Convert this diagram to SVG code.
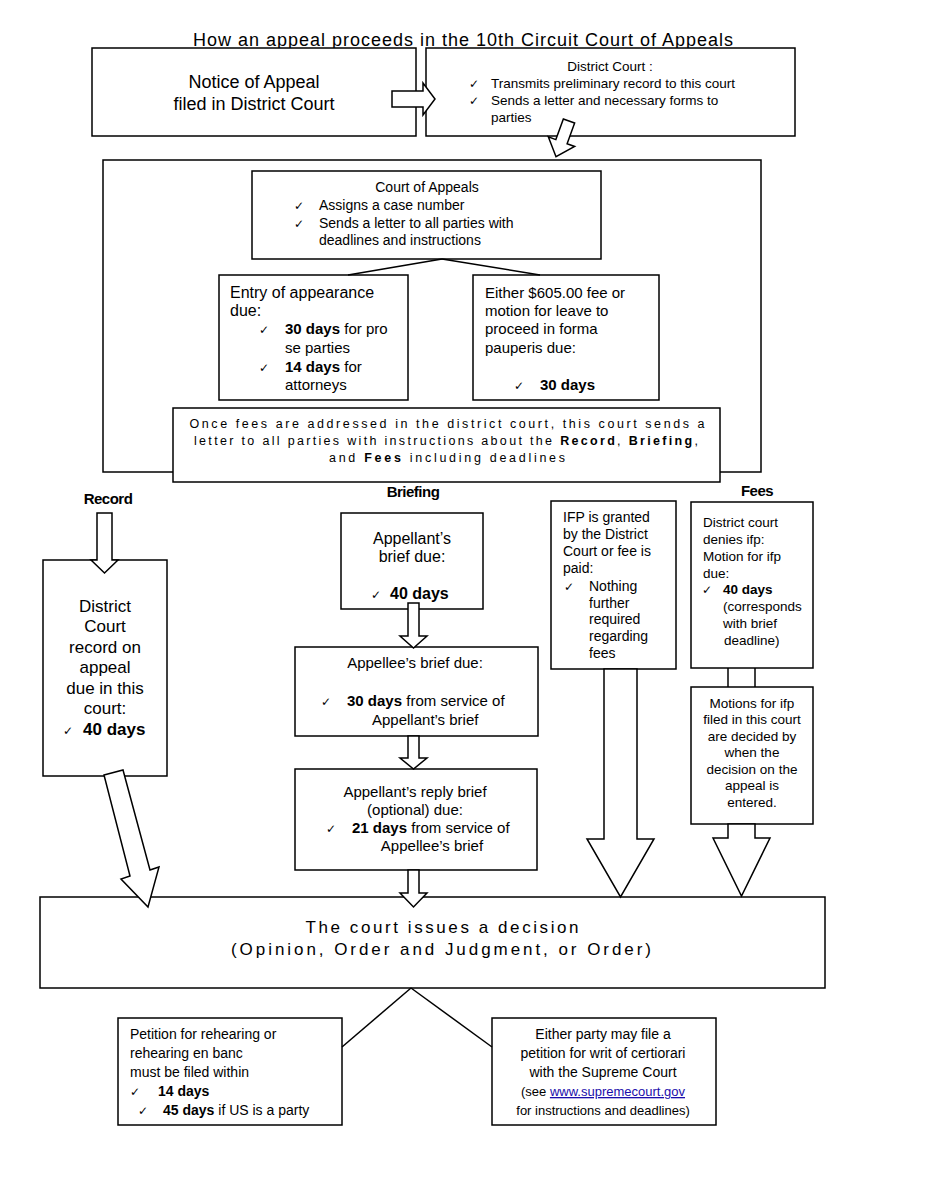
<svg xmlns="http://www.w3.org/2000/svg" width="927" height="1200" viewBox="0 0 927 1200">
<style>
  .box { fill: #fff; stroke: #000; stroke-width: 1.5; }
  .frame { fill: none; stroke: #000; stroke-width: 1.5; }
  .arrow { fill: #fff; stroke: #000; stroke-width: 1.5; stroke-linejoin: miter; }
  .line { fill: none; stroke: #000; stroke-width: 1.5; }
  text { font-family: "Liberation Sans", "DejaVu Sans", Arial, sans-serif; fill: #000; }
  .c { text-anchor: middle; }
  .b { font-weight: bold; }
  .ck { font-family: "DejaVu Sans", sans-serif; font-size: 12px; }
  .f13 { font-size: 13.5px; }
  .f14 { font-size: 14px; }
  .f15 { font-size: 15px; }
  .f16 { font-size: 16px; }
  .f17 { font-size: 17px; }
  .f18 { font-size: 18px; }
  .lbl { font-size: 15px; font-weight: bold; letter-spacing: -0.5px; }
  .link { fill: #1a0dab; text-decoration: underline; }
</style>
<rect width="927" height="1200" fill="#fff"/>

<g id="title">
  <text class="c f18" x="463" y="46" textLength="540" lengthAdjust="spacing">How an appeal proceeds in the 10th Circuit Court of Appeals</text>
</g>

<g id="container">
  <rect class="frame" x="103" y="160" width="658" height="312"/>
</g>

<g id="notice">
  <rect class="box" x="92" y="48" width="324" height="88"/>
  <text class="c f18" x="254" y="88">Notice of Appeal</text>
  <text class="c f18" x="254" y="110">filed in District Court</text>
</g>

<g id="district-court">
  <rect class="box" x="426" y="48" width="369" height="88"/>
  <text class="c f13" x="610" y="71">District Court :</text>
  <text class="ck" x="469" y="88">✓</text>
  <text class="f13" x="491" y="88">Transmits preliminary record to this court</text>
  <text class="ck" x="469" y="105">✓</text>
  <text class="f13" x="491" y="105">Sends a letter and necessary forms to</text>
  <text class="f13" x="491" y="122">parties</text>
</g>

<g id="court-of-appeals">
  <rect class="box" x="252" y="171" width="349" height="88"/>
  <text class="c f14" x="427" y="192">Court of Appeals</text>
  <text class="ck" x="294" y="210">✓</text>
  <text class="f14" x="319" y="210">Assigns a case number</text>
  <text class="ck" x="294" y="228">✓</text>
  <text class="f14" x="319" y="228">Sends a letter to all parties with</text>
  <text class="f14" x="319" y="245">deadlines and instructions</text>
</g>

<g id="entry-of-appearance">
  <rect class="box" x="219" y="275" width="189" height="125"/>
  <text class="f16" x="230" y="298">Entry of appearance</text>
  <text class="f16" x="230" y="316">due:</text>
  <text class="ck" x="259" y="334">✓</text>
  <text class="f15" x="285" y="334"><tspan class="b">30 days</tspan> for pro</text>
  <text class="f15" x="285" y="353">se parties</text>
  <text class="ck" x="259" y="372">✓</text>
  <text class="f15" x="285" y="372"><tspan class="b">14 days</tspan> for</text>
  <text class="f15" x="285" y="390">attorneys</text>
</g>

<g id="fee-or-ifp">
  <rect class="box" x="473" y="275" width="186" height="125"/>
  <text class="f15" x="485" y="298">Either $605.00 fee or</text>
  <text class="f15" x="485" y="316">motion for leave to</text>
  <text class="f15" x="485" y="334">proceed in forma</text>
  <text class="f15" x="485" y="353">pauperis due:</text>
  <text class="ck" x="514" y="390">✓</text>
  <text class="f15 b" x="540" y="390">30 days</text>
</g>

<g id="fees-addressed">
  <rect class="box" x="173" y="408" width="547" height="74"/>
  <text class="c" font-size="12.5" x="447" y="428" textLength="515" lengthAdjust="spacing">Once fees are addressed in the district court, this court sends a</text>
  <text class="c" font-size="12.5" x="446" y="445" textLength="504" lengthAdjust="spacing">letter to all parties with instructions about the <tspan class="b">Record</tspan>, <tspan class="b">Briefing</tspan>,</text>
  <text class="c" font-size="12.5" x="447" y="462" textLength="236" lengthAdjust="spacing">and <tspan class="b">Fees</tspan> including deadlines</text>
</g>

<g id="labels">
  <text class="c lbl" x="108" y="504">Record</text>
  <text class="c lbl" x="413" y="497">Briefing</text>
  <text class="c lbl" x="757" y="496">Fees</text>
</g>

<g id="record">
  <rect class="box" x="43" y="560" width="124" height="216"/>
  <text class="c f17" x="105" y="612">District</text>
  <text class="c f17" x="105" y="632">Court</text>
  <text class="c f17" x="105" y="653">record on</text>
  <text class="c f17" x="105" y="673">appeal</text>
  <text class="c f17" x="105" y="694">due in this</text>
  <text class="c f17" x="105" y="714">court:</text>
  <text class="ck" x="63" y="735">✓</text>
  <text class="f17 b" x="83" y="735">40 days</text>
</g>

<g id="appellant-brief">
  <rect class="box" x="341" y="513" width="142" height="96"/>
  <text class="c f16" x="412" y="544">Appellant’s</text>
  <text class="c f16" x="412" y="562">brief due:</text>
  <text class="ck" x="371" y="599">✓</text>
  <text class="f16 b" x="390" y="599">40 days</text>
</g>

<g id="appellee-brief">
  <rect class="box" x="295" y="647" width="243" height="89"/>
  <text class="c f15" x="415" y="668">Appellee’s brief due:</text>
  <text class="ck" x="321" y="706">✓</text>
  <text class="f15" x="347" y="706"><tspan class="b">30 days</tspan> from service of</text>
  <text class="f15" x="372" y="725">Appellant’s brief</text>
</g>

<g id="reply-brief">
  <rect class="box" x="295" y="769" width="242" height="101"/>
  <text class="c f15" x="415" y="797">Appellant’s reply brief</text>
  <text class="c f15" x="415" y="815">(optional) due:</text>
  <text class="ck" x="326" y="833">✓</text>
  <text class="f15" x="352" y="833"><tspan class="b">21 days</tspan> from service of</text>
  <text class="c f15" x="432" y="851">Appellee’s brief</text>
</g>

<g id="ifp-granted">
  <rect class="box" x="551" y="501" width="125" height="168"/>
  <text class="f14" x="563" y="522">IFP is granted</text>
  <text class="f14" x="563" y="539">by the District</text>
  <text class="f14" x="563" y="556">Court or fee is</text>
  <text class="f14" x="563" y="573">paid:</text>
  <text class="ck" x="564" y="591">✓</text>
  <text class="f14" x="589" y="591">Nothing</text>
  <text class="f14" x="589" y="608">further</text>
  <text class="f14" x="589" y="624">required</text>
  <text class="f14" x="589" y="641">regarding</text>
  <text class="f14" x="589" y="658">fees</text>
</g>

<g id="ifp-denied">
  <rect class="box" x="691" y="502" width="122" height="166"/>
  <text class="f13" x="703" y="527">District court</text>
  <text class="f13" x="703" y="544">denies ifp:</text>
  <text class="f13" x="703" y="561">Motion for ifp</text>
  <text class="f13" x="703" y="578">due:</text>
  <text class="ck" x="702" y="594">✓</text>
  <text class="f13 b" x="723" y="594">40 days</text>
  <text class="f13" x="723" y="611">(corresponds</text>
  <text class="f13" x="723" y="628">with brief</text>
  <text class="f13" x="724" y="645">deadline)</text>
</g>

<g id="motions-ifp">
  <rect class="box" x="691" y="687" width="122" height="137"/>
  <text class="c f13" x="752" y="708">Motions for ifp</text>
  <text class="c f13" x="752" y="724">filed in this court</text>
  <text class="c f13" x="752" y="741">are decided by</text>
  <text class="c f13" x="752" y="757">when the</text>
  <text class="c f13" x="752" y="774">decision on the</text>
  <text class="c f13" x="752" y="790">appeal is</text>
  <text class="c f13" x="752" y="807">entered.</text>
</g>

<g id="decision">
  <rect class="box" x="40" y="897" width="785" height="91"/>
  <text class="c f17" x="442" y="933" textLength="273" lengthAdjust="spacing">The court issues a decision</text>
  <text class="c f17" x="441" y="955" textLength="420" lengthAdjust="spacing">(Opinion, Order and Judgment, or Order)</text>
</g>

<g id="rehearing">
  <rect class="box" x="118" y="1018" width="224" height="107"/>
  <text class="f14" x="130" y="1039">Petition for rehearing or</text>
  <text class="f14" x="130" y="1058">rehearing en banc</text>
  <text class="f14" x="130" y="1077">must be filed within</text>
  <text class="ck" x="130" y="1096">✓</text>
  <text class="f14 b" x="158" y="1096">14 days</text>
  <text class="ck" x="138" y="1115">✓</text>
  <text class="f14" x="163" y="1115"><tspan class="b">45 days</tspan> if US is a party</text>
</g>

<g id="certiorari">
  <rect class="box" x="492" y="1018" width="224" height="107"/>
  <text class="c f14" x="603" y="1039">Either party may file a</text>
  <text class="c f14" x="603" y="1058">petition for writ of certiorari</text>
  <text class="c f14" x="603" y="1077">with the Supreme Court</text>
  <text class="c" font-size="13" x="603" y="1096">(see <tspan class="link">www.supremecourt.gov</tspan></text>
  <text class="c" font-size="13" x="603" y="1115">for instructions and deadlines)</text>
</g>

<g id="connectors">
  <polygon class="arrow" points="392,91 423,91 423,83 435,99 423,115 423,107 392,107"/>
  <polygon class="arrow" transform="translate(569,121) rotate(20)" points="-6,0 6,0 6,22 14,22 0,38 -14,22 -6,22"/>
  <line class="line" x1="442" y1="259" x2="348" y2="275"/>
  <line class="line" x1="442" y1="259" x2="540" y2="275"/>
  <polygon class="arrow" points="97,513 112,513 112,560 118,560 104.5,573 91,560 97,560"/>
  <polygon class="arrow" points="104,775 123,770 150,870 159,867 148,907 121,879 130,876"/>
  <polygon class="arrow" points="408,603 419,603 419,636 427,636 413.5,648 400,636 408,636"/>
  <polygon class="arrow" points="408,736 419,736 419,758 427,758 413.5,769 400,758 408,758"/>
  <polygon class="arrow" points="408,870 419,870 419,893 427,893 413.5,907 400,893 408,893"/>
  <polygon class="arrow" points="604,669 637,669 637,839 654,839 620.5,897 587,839 604,839"/>
  <line class="line" x1="728" y1="668" x2="728" y2="687"/>
  <line class="line" x1="755" y1="668" x2="755" y2="687"/>
  <polygon class="arrow" points="728,824 755,824 755,838 770,838 741.5,896 713,838 728,838"/>
  <line class="line" x1="411" y1="988" x2="342" y2="1047"/>
  <line class="line" x1="411" y1="988" x2="492" y2="1047"/>
</g>
</svg>
